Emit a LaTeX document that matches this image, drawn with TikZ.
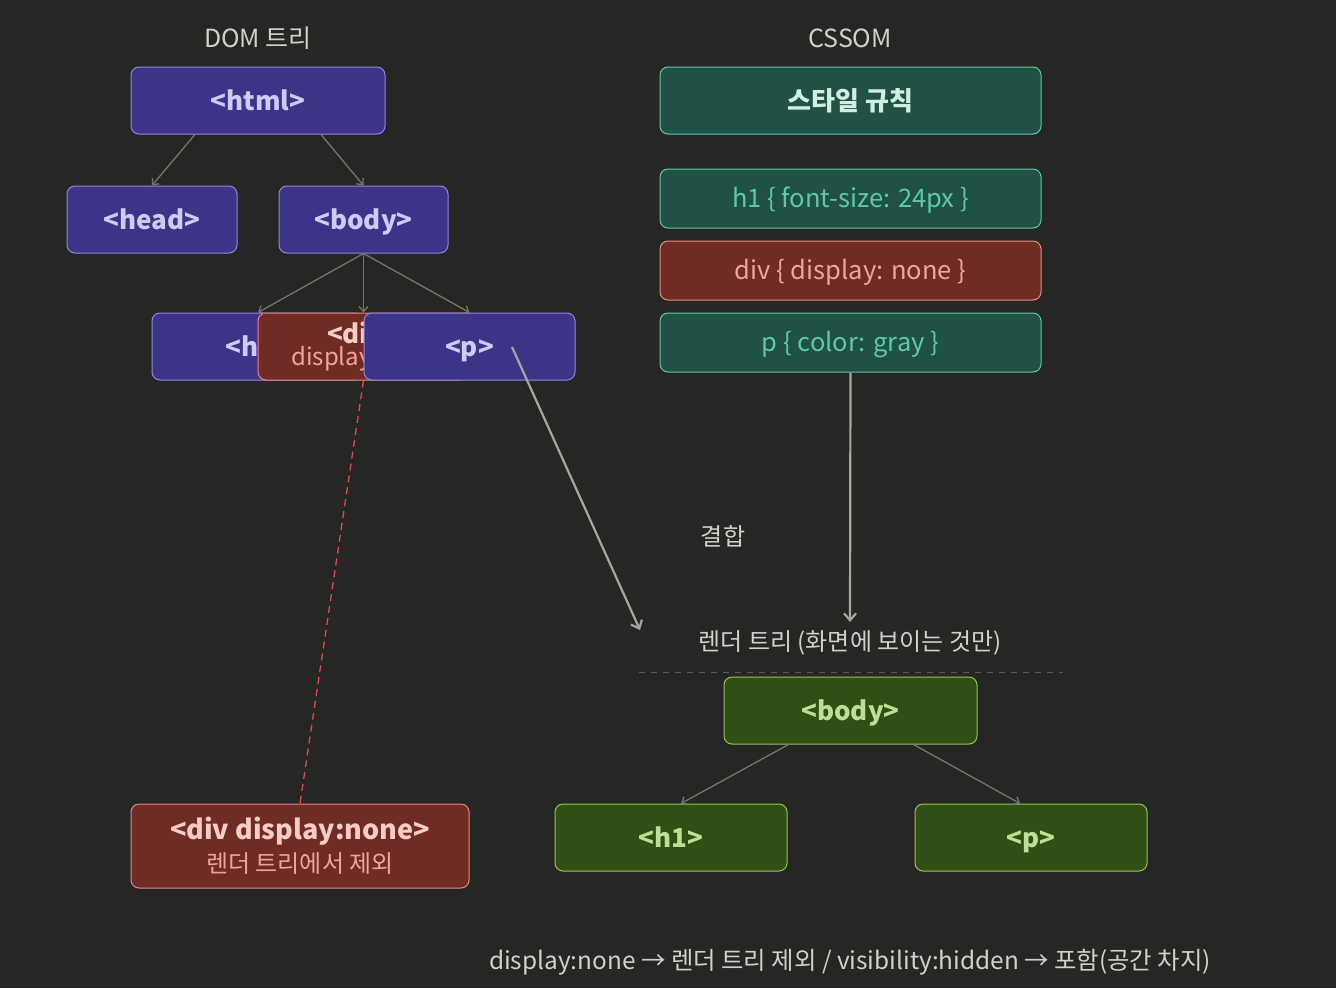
\documentclass[tikz,border=0pt]{standalone}
\usepackage{fontspec}
\setmainfont{Noto Sans CJK KR}
\usetikzlibrary{arrows.meta}
\definecolor{bg}{HTML}{262624}
\definecolor{pfill}{HTML}{3C3489}
\definecolor{pline}{HTML}{8F88E0}
\definecolor{ptext}{HTML}{CECBF6}
\definecolor{tfill}{HTML}{215046}
\definecolor{tline}{HTML}{5DCAA5}
\definecolor{ttext}{HTML}{5DCAA5}
\definecolor{ttitle}{HTML}{CFEFE2}
\definecolor{rfill}{HTML}{712B25}
\definecolor{rline}{HTML}{E88A84}
\definecolor{rtext}{HTML}{F0A49C}
\definecolor{rtitle}{HTML}{F6CCC6}
\definecolor{gfill}{HTML}{2F4F15}
\definecolor{gline}{HTML}{97C459}
\definecolor{gtext}{HTML}{C0DD97}
\definecolor{edgec}{HTML}{76766F}
\definecolor{flowc}{HTML}{A8A69E}
\definecolor{labc}{HTML}{D3D1C7}
\definecolor{dashred}{HTML}{E24B4A}
\definecolor{sepc}{HTML}{5A5A56}
\tikzset{
  box/.style={draw, rectangle, rounded corners=8pt, line width=1pt, inner sep=0pt, align=center},
  dombox/.style={box, text height=19pt, text depth=0pt, fill=pfill, draw=pline, text=ptext, font=\fontsize{26}{30}\selectfont\bfseries},
  cssbox/.style={box, text height=18pt, text depth=0pt, fill=tfill, draw=tline, text=ttext, minimum width=381pt, minimum height=59pt, font=\fontsize{25.5}{28}\selectfont},
  redbox/.style={box, fill=rfill, draw=rline, text=rtext},
  renbox/.style={box, text height=19pt, text depth=0pt, fill=gfill, draw=gline, text=gtext, font=\fontsize{26}{30}\selectfont\bfseries},
  edge/.style={draw=edgec, line width=1.3pt, -{Straight Barb[length=5pt,width=9pt]}},
  flow/.style={draw=flowc, line width=2.2pt, -{Straight Barb[length=7pt,width=12pt]}},
  lab/.style={text height=19pt, text depth=0pt, text=labc, font=\fontsize{24}{28}\selectfont},
}
\begin{document}
\begin{tikzpicture}[x=1pt,y=-1pt]
\fill[bg] (0,0) rectangle (1336,988);
\useasboundingbox (0,0) rectangle (1336,988);

% labels
\node[lab, text height=20pt, font=\fontsize{25}{28}\selectfont] (domlab) at (258,37) {DOM 트리};
\node[lab, text height=20pt, font=\fontsize{25}{28}\selectfont] (csslab) at (850,37) {CSSOM};
\node[lab] (joinlab) at (723,536) {결합};
\node[lab] (renlab) at (850,641) {렌더 트리 (화면에 보이는 것만)};
\node[lab, font=\fontsize{24.4}{28}\selectfont] (note) at (850,960) {display:none → 렌더 트리 제외 / visibility:hidden → 포함(공간 차지)};

% DOM tree
\node[dombox, minimum width=254pt, minimum height=67pt] (html) at (258,100.5) {<html>};
\node[dombox, minimum width=170pt, minimum height=67pt] (head) at (152,219.5) {<head>};
\node[dombox, minimum width=169pt, minimum height=67pt] (body) at (363.5,219.5) {<body>};
\node[dombox, minimum width=212pt, minimum height=67pt] (h1) at (258,346.5) {<h1>};
\node[redbox, minimum width=211pt, minimum height=67pt] (div) at (363.5,346.5)
  {{\fontsize{26}{28}\selectfont\bfseries\color{rtitle}<div>}\\[2pt]{\fontsize{24}{26}\selectfont display:none}};
\node[dombox, minimum width=211pt, minimum height=67pt] (p) at (469.5,346.5) {<p>};

\draw[edge] ([xshift=-63pt]html.south) -- (head.north);
\draw[edge] ([xshift=63pt]html.south) -- (body.north);
\draw[edge] (body.south) -- (h1.north);
\draw[edge] (body.south) -- (div.north);
\draw[edge] (body.south) -- (p.north);

% CSSOM
\node[cssbox, minimum height=67pt, text height=19pt, text=ttitle, font=\fontsize{26}{30}\selectfont\bfseries] (rules) at (850.5,100.5) {스타일 규칙};
\node[cssbox] (ruleh1) at (850.5,198.5) {h1 \{ font-size: 24px \}};
\node[cssbox, fill=rfill, draw=rline, text=rtext] (rulediv) at (850.5,270.5) {div \{ display: none \}};
\node[cssbox] (rulep) at (850.5,342.5) {p \{ color: gray \}};

% flows
\coordinate (pstart) at (512,347);
\coordinate (pend) at (640,630);
\coordinate (cend) at (850,622);
\draw[flow] (pstart) -- (pend);
\draw[flow] (rulep.south) -- (cend);

% separator
\draw[sepc, line width=1pt, dash pattern=on 6pt off 6pt] (639,672) coordinate (sepa) -- (1063,672) coordinate (sepb);

% render tree
\node[renbox, minimum width=253pt, minimum height=67pt] (rbody) at (850.5,710.5) {<body>};
\node[renbox, minimum width=232pt, minimum height=67pt] (rh1) at (671,837.5) {<h1>};
\node[renbox, minimum width=232pt, minimum height=67pt] (rp) at (1031,837.5) {<p>};
\draw[edge] ([xshift=-62pt]rbody.south) -- ([xshift=10pt]rh1.north);
\draw[edge] ([xshift=63pt]rbody.south) -- ([xshift=-11pt]rp.north);

% excluded div
\node[redbox, minimum width=338pt, minimum height=84pt] (divx) at (300,846)
  {{\fontsize{27}{30}\selectfont\bfseries\color{rtitle}<div display:none>}\\[6pt]{\fontsize{24}{26}\selectfont 렌더 트리에서 제외}};
\draw[dashred, line width=1.3pt, dash pattern=on 7pt off 5pt] (div.south) -- (divx.north);
\end{tikzpicture}
\end{document}
